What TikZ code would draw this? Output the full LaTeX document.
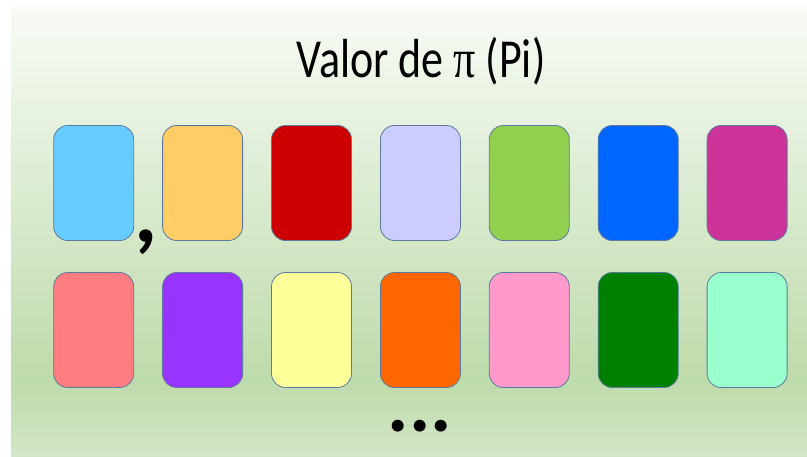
\documentclass[tikz,border=0pt]{standalone}
\usepackage{fontspec}
\setmainfont{Carlito}
\newfontfamily\pifont{Liberation Serif}
\definecolor{bgtop}{HTML}{F8FBF6}
\definecolor{bgmid}{HTML}{BEDBAB}
\definecolor{bgbot}{HTML}{D2E7C6}
\definecolor{cardline}{HTML}{5B7A9E}
% TikZ fits the path into the 25bp--75bp band of the shading
\pgfdeclareverticalshading{bgshade}{100bp}{color(0bp)=(bgbot); color(25bp)=(bgbot); color(33.5bp)=(bgmid); color(75bp)=(bgtop); color(100bp)=(bgtop)}
\tikzset{
  card/.style={draw=cardline, line width=0.8pt, rounded corners=14pt,
    minimum width=80pt, minimum height=115pt, inner sep=0pt},
}
\begin{document}
\begin{tikzpicture}[x=1pt,y=-1pt]
\useasboundingbox (0,0) rectangle (807,456);
\shade[shading=bgshade] (11,7) rectangle (807,456);
\node[font=\fontsize{55}{60}\selectfont, inner sep=0pt] (title) at (421,61)
  {\scalebox{0.8}[1]{Valor de {\pifont π} (Pi)}};
% row 1
\foreach \c [count=\i from 0] in {66CCFF,FFCC66,CC0000,CCCCFF,92D050,0066FF,CC3399}{
  \definecolor{cc}{HTML}{\c}
  \node[card, fill=cc] (a\i) at ({93.7+\i*108.9},183) {};
}
% row 2
\foreach \c [count=\i from 0] in {FF7C80,9933FF,FFFF99,FF6600,FF99CC,008000,99FFCC}{
  \definecolor{cc}{HTML}{\c}
  \node[card, fill=cc] (b\i) at ({93.7+\i*108.9},330) {};
}
\node[font=\fontsize{90}{90}\selectfont\bfseries, inner sep=0pt] (comma) at (146,242) {,};
\node[font=\fontsize{80}{80}\selectfont\bfseries, inner sep=0pt] (dots) at (420,426) {...};
\end{tikzpicture}
\end{document}
